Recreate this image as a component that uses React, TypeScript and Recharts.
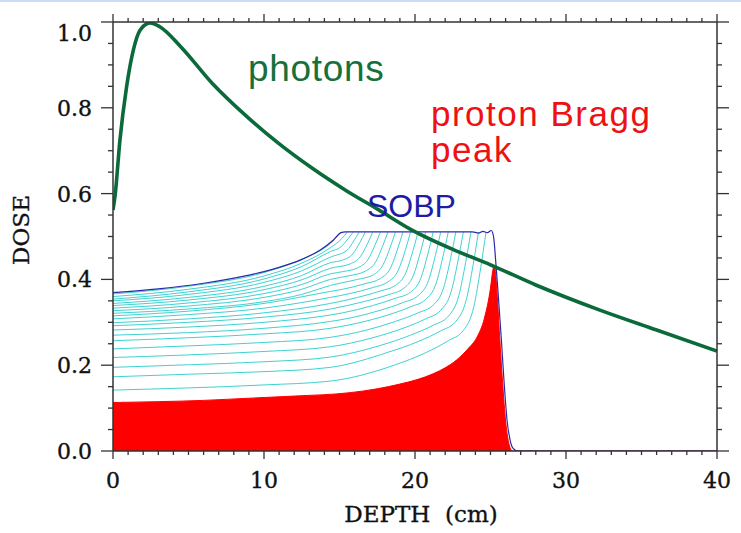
import React from 'react';
import { ComposedChart, Line, Area, XAxis, YAxis } from 'recharts';

// depth (cm) -> relative dose
const photonDose = [
  [0, 0.562], [0.13, 0.593], [0.46, 0.725], [0.9, 0.849], [1.35, 0.935], [1.79, 0.981],
  [2.45, 0.998], [3.1, 0.989], [4.5, 0.942], [6.55, 0.858], [8.76, 0.783], [10.97, 0.717],
  [13.2, 0.659], [15.4, 0.608], [17.6, 0.562], [19.8, 0.515], [22.5, 0.47], [25, 0.434],
  [28, 0.387], [32.2, 0.329], [36, 0.282], [40, 0.233],
];

const braggPeak = [
  [0, 0.113], [3, 0.115], [6, 0.118], [9, 0.123], [12, 0.128], [15.7, 0.136], [17.5, 0.145],
  [19, 0.156], [20.2, 0.167], [21.2, 0.18], [22, 0.194], [22.75, 0.212], [23.5, 0.238],
  [24.1, 0.265], [24.6, 0.31], [25, 0.38], [25.15, 0.42], [25.25, 0.433], [25.45, 0.36],
  [25.6, 0.27], [25.8, 0.16], [26, 0.07], [26.2, 0.02], [26.45, 0], [40, 0],
];

const sobpDose = [
  [0, 0.369], [3, 0.378], [6, 0.391], [9, 0.41], [10, 0.418], [11, 0.428], [12.4, 0.445],
  [13.7, 0.468], [14.6, 0.492], [15.1, 0.509], [15.4, 0.511], [20, 0.511], [23.8, 0.511],
  [24.2, 0.508], [24.5, 0.512], [24.8, 0.509], [25.05, 0.514], [25.2, 0.5], [25.35, 0.44],
  [25.5, 0.37], [25.7, 0.27], [25.9, 0.16], [26.1, 0.07], [26.3, 0.025], [26.5, 0.006],
  [26.8, 0], [40, 0],
];

// partial sums of the weighted Bragg peaks (deepest first)
const partialSums = [
  [[0, 0.142], [5, 0.147], [10, 0.154], [14.4, 0.163], [18.7, 0.201], [20.7, 0.229], [22.2, 0.257], [23.2, 0.281], [23.9, 0.337], [24.35, 0.427], [24.7, 0.51]],
  [[0, 0.173], [5, 0.179], [10, 0.185], [14.4, 0.195], [18.2, 0.23], [20.2, 0.255], [21.7, 0.28], [22.7, 0.302], [23.4, 0.353], [23.85, 0.434], [24.2, 0.51]],
  [[0, 0.195], [5, 0.201], [10, 0.208], [14.4, 0.219], [17.7, 0.246], [19.7, 0.27], [21.2, 0.293], [22.2, 0.314], [22.9, 0.362], [23.35, 0.439], [23.7, 0.51]],
  [[0, 0.218], [5, 0.224], [10, 0.232], [14.4, 0.243], [17.2, 0.264], [19.2, 0.286], [20.7, 0.308], [21.7, 0.328], [22.4, 0.372], [22.85, 0.444], [23.2, 0.51]],
  [[0, 0.238], [5, 0.245], [10, 0.253], [14.4, 0.265], [16.7, 0.281], [18.7, 0.302], [20.2, 0.322], [21.2, 0.34], [21.9, 0.381], [22.35, 0.448], [22.7, 0.51]],
  [[0, 0.257], [5, 0.264], [10, 0.273], [14.4, 0.286], [16.2, 0.298], [18.2, 0.317], [19.7, 0.336], [20.7, 0.353], [21.4, 0.391], [21.85, 0.453], [22.2, 0.51]],
  [[0, 0.27], [5, 0.276], [10, 0.286], [14.4, 0.302], [15.7, 0.31], [17.7, 0.328], [19.2, 0.346], [20.2, 0.362], [20.9, 0.398], [21.35, 0.456], [21.7, 0.51]],
  [[0, 0.282], [5, 0.289], [10, 0.3], [14.4, 0.317], [15.2, 0.322], [17.2, 0.339], [18.7, 0.356], [19.7, 0.37], [20.4, 0.404], [20.85, 0.459], [21.2, 0.51]],
  [[0, 0.292], [5, 0.3], [10, 0.312], [14.4, 0.331], [16.7, 0.349], [18.2, 0.364], [19.2, 0.378], [19.9, 0.41], [20.35, 0.462], [20.7, 0.51]],
  [[0, 0.299], [5, 0.308], [10, 0.322], [14.4, 0.344], [16.2, 0.358], [17.7, 0.373], [18.7, 0.386], [19.4, 0.416], [19.85, 0.465], [20.2, 0.51]],
  [[0, 0.308], [5, 0.318], [10, 0.333], [14.4, 0.358], [15.7, 0.367], [17.2, 0.381], [18.2, 0.394], [18.9, 0.422], [19.35, 0.467], [19.7, 0.51]],
  [[0, 0.315], [5, 0.326], [10, 0.344], [14.4, 0.372], [15.2, 0.377], [16.7, 0.39], [17.7, 0.402], [18.4, 0.428], [18.85, 0.471], [19.2, 0.51]],
  [[0, 0.321], [5, 0.331], [10, 0.348], [12.5, 0.365], [14.4, 0.386], [16.2, 0.4], [17.2, 0.41], [17.9, 0.435], [18.35, 0.474], [18.7, 0.51]],
  [[0, 0.327], [5, 0.338], [10, 0.358], [12.5, 0.377], [14.4, 0.4], [15.7, 0.409], [16.7, 0.419], [17.4, 0.441], [17.85, 0.477], [18.2, 0.51]],
  [[0, 0.333], [5, 0.345], [10, 0.367], [12.5, 0.388], [14.4, 0.413], [15.2, 0.418], [16.2, 0.427], [16.9, 0.447], [17.35, 0.48], [17.7, 0.51]],
  [[0, 0.339], [5, 0.352], [10, 0.376], [12.5, 0.399], [14.4, 0.426], [15.7, 0.436], [16.4, 0.454], [16.85, 0.483], [17.2, 0.51]],
  [[0, 0.344], [5, 0.358], [10, 0.384], [12.5, 0.409], [14.4, 0.439], [15.2, 0.445], [15.9, 0.46], [16.35, 0.486], [16.7, 0.51]],
  [[0, 0.35], [5, 0.365], [10, 0.393], [12.5, 0.42], [14.4, 0.452], [15.5, 0.468], [15.95, 0.49], [16.3, 0.51]],
  [[0, 0.354], [5, 0.371], [10, 0.401], [12.5, 0.43], [14.4, 0.465], [15.1, 0.476], [15.55, 0.494], [15.9, 0.51]],
  [[0, 0.36], [5, 0.377], [10, 0.408], [12.5, 0.438], [14.4, 0.474], [15.15, 0.495], [15.5, 0.51]],
  [[0, 0.366], [5, 0.384], [10, 0.416], [12.5, 0.447], [14.4, 0.484], [14.75, 0.496], [15.1, 0.51]],
];

const depthTicks = [0, 1, 2, 3, 4, 5, 6, 7, 8, 9, 10, 11, 12, 13, 14, 15, 16, 17, 18, 19, 20,
  21, 22, 23, 24, 25, 26, 27, 28, 29, 30, 31, 32, 33, 34, 35, 36, 37, 38, 39, 40];
const depthLabels = [0, 10, 20, 30, 40];
const doseTicks = [0, 0.05, 0.1, 0.15, 0.2, 0.25, 0.3, 0.35, 0.4, 0.45, 0.5, 0.55, 0.6, 0.65,
  0.7, 0.75, 0.8, 0.85, 0.9, 0.95, 1.0];
const doseLabels = [0, 0.2, 0.4, 0.6, 0.8, 1.0];

const toPoints = (arr: number[][]) => arr.map(([x, y]) => ({ x, y }));

const AXIS = '#333';
const SERIF = "'DejaVu Serif', 'Liberation Serif', serif";
const SANS = "'Liberation Sans', Arial, sans-serif";
const tickText = { fontFamily: SERIF, fontSize: 22, fill: '#111', stroke: '#111', strokeWidth: 0.35 };

const isLabel = (list: number[], v: number) => list.some((l) => Math.abs(l - v) < 1e-6);

const BottomTick = (props: any) => {
  const { x, y, payload } = props;
  const major = isLabel(depthLabels, payload.value);
  return (
    <g>
      <line x1={x} x2={x} y1={y} y2={y + (major ? 8 : 4)} stroke={AXIS} strokeWidth={1.3} />
      {major && (
        <text x={x} y={y + 37} textAnchor="middle" {...tickText}>
          {payload.value}
        </text>
      )}
    </g>
  );
};

const TopTick = (props: any) => {
  const { x, y, payload } = props;
  const major = isLabel(depthLabels, payload.value);
  return <line x1={x} x2={x} y1={y} y2={y - (major ? 8 : 4)} stroke={AXIS} strokeWidth={1.3} />;
};

const LeftTick = (props: any) => {
  const { x, y, payload } = props;
  const major = isLabel(doseLabels, payload.value);
  return (
    <g>
      <line x1={x} x2={x - (major ? 12 : 5)} y1={y} y2={y} stroke={AXIS} strokeWidth={1.3} />
      {major && (
        <text x={x - 21} y={y + (payload.value > 0.99 ? 11 : 0)} dy={8} textAnchor="end" {...tickText}>
          {payload.value.toFixed(1)}
        </text>
      )}
    </g>
  );
};

const RightTick = (props: any) => {
  const { x, y, payload } = props;
  const major = isLabel(doseLabels, payload.value);
  return <line x1={x} x2={x + (major ? 12 : 5)} y1={y} y2={y} stroke={AXIS} strokeWidth={1.3} />;
};

export default function App() {
  return (
    <div style={{ position: 'absolute', left: 0, top: 0, width: 741, height: 533, background: '#fff' }}>
      <div style={{ position: 'absolute', left: 0, top: 0, width: 741, height: 2, background: '#cddbf6' }} />
      <ComposedChart width={741} height={533} margin={{ top: 0, right: 0, bottom: 0, left: 0 }}>
        <XAxis xAxisId="b" type="number" dataKey="x" domain={[0, 40]} ticks={depthTicks} interval={0}
          height={82} tickSize={0} tickMargin={0} tick={<BottomTick />} axisLine={{ stroke: AXIS, strokeWidth: 1.5 }} allowDataOverflow />
        <XAxis xAxisId="t" orientation="top" type="number" dataKey="x" domain={[0, 40]} ticks={depthTicks} interval={0}
          height={22} tickSize={0} tickMargin={0} tick={<TopTick />} axisLine={{ stroke: AXIS, strokeWidth: 1.5 }} allowDataOverflow />
        <YAxis yAxisId="l" type="number" domain={[0, 1]} ticks={doseTicks} interval={0}
          width={113} tickSize={0} tickMargin={0} tick={<LeftTick />} axisLine={{ stroke: AXIS, strokeWidth: 1.5 }} allowDataOverflow />
        <YAxis yAxisId="r" orientation="right" type="number" domain={[0, 1]} ticks={doseTicks} interval={0}
          width={24} tickSize={0} tickMargin={0} tick={<RightTick />} axisLine={{ stroke: AXIS, strokeWidth: 1.5 }} allowDataOverflow />

        <Area xAxisId="b" yAxisId="l" data={toPoints(braggPeak)} dataKey="y" type="monotone"
          stroke="#ff0000" strokeWidth={1} fill="#ff0000" fillOpacity={1} isAnimationActive={false} dot={false} activeDot={false} />
        {partialSums.map((curve, i) => (
          <Line key={i} xAxisId="b" yAxisId="l" data={toPoints(curve)} dataKey="y" type="monotone"
            stroke="#3fd2d2" strokeWidth={1} dot={false} activeDot={false} isAnimationActive={false} />
        ))}
        <Line xAxisId="b" yAxisId="l" data={toPoints(sobpDose)} dataKey="y" type="monotone"
          stroke="#2a2aa8" strokeWidth={1.2} dot={false} activeDot={false} isAnimationActive={false} />
        <Line xAxisId="b" yAxisId="l" data={toPoints(photonDose)} dataKey="y" type="monotone"
          stroke="#0b6a3a" strokeWidth={3.6} dot={false} activeDot={false} isAnimationActive={false} />
        {/* keep the top / right frame axes attached to a series */}
        <Line xAxisId="t" yAxisId="r" data={toPoints(photonDose)} dataKey="y" stroke="none" dot={false} activeDot={false} isAnimationActive={false} />
      </ComposedChart>
      <svg width={741} height={533} style={{ position: 'absolute', left: 0, top: 0, pointerEvents: 'none' }}>
        <text x={248} y={81} fontFamily={SANS} fontSize={37} letterSpacing={0.7} fill="#16703c">photons</text>
        <text x={431} y={126} fontFamily={SANS} fontSize={35} letterSpacing={1.5} fill="#ee1111">proton Bragg</text>
        <text x={431} y={162} fontFamily={SANS} fontSize={35} letterSpacing={1.5} fill="#ee1111">peak</text>
        <text x={367} y={217} fontFamily={SANS} fontSize={32} fill="#1c1ca6">SOBP</text>
        <text x={421} y={522} textAnchor="middle" xmlSpace="preserve" {...tickText} fontSize={23}>DEPTH  (cm)</text>
        <text x={29} y={230} textAnchor="middle" {...tickText} fontSize={23} transform="rotate(-90 29 230)">DOSE</text>
      </svg>
    </div>
  );
}
